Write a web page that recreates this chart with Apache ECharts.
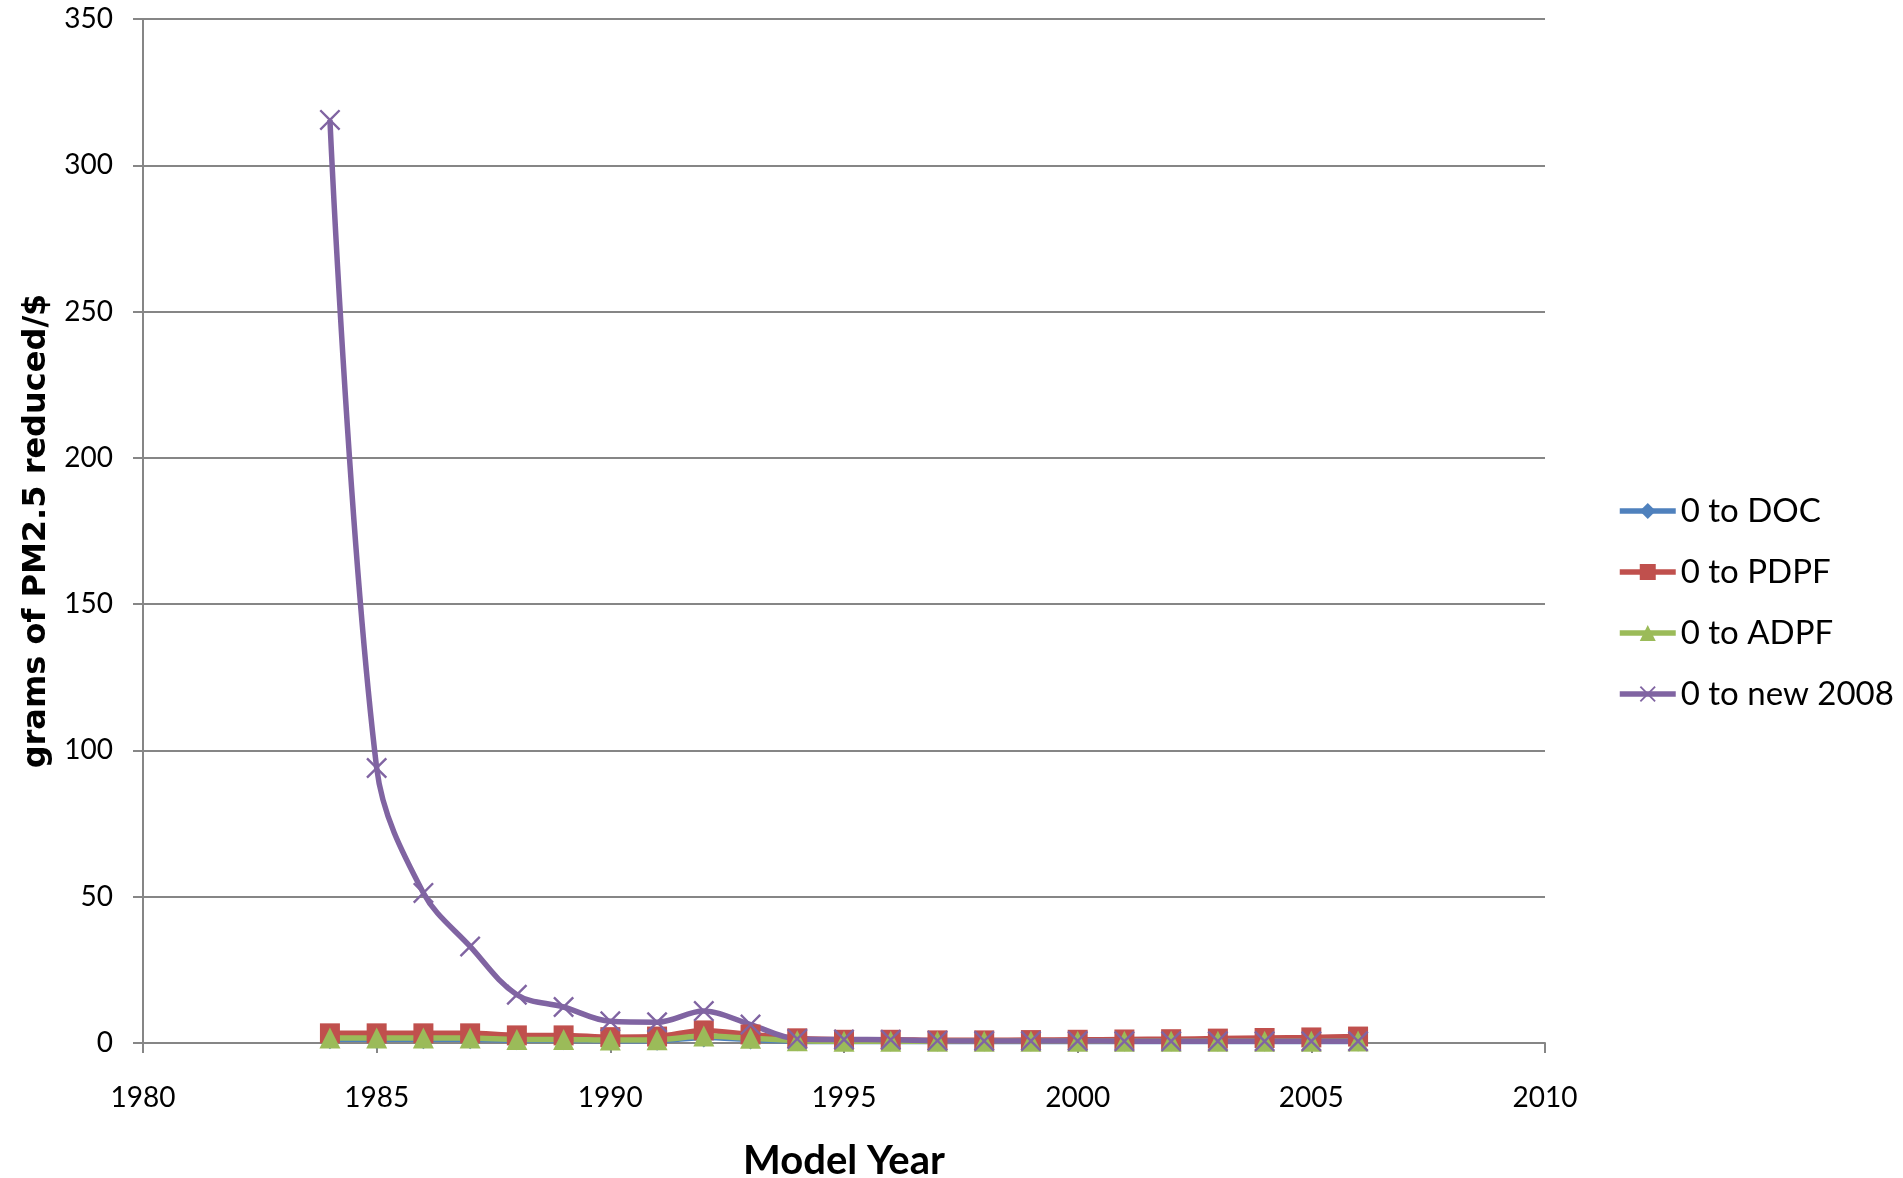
<!DOCTYPE html>
<html>
<head>
<meta charset="utf-8">
<script src="https://cdn.jsdelivr.net/npm/echarts@6/dist/echarts.min.js"></script>
<style>
html,body{margin:0;padding:0;background:#fff;}
#chart{width:1903px;height:1178px;}
</style>
</head>
<body>
<div id="chart"></div>
<script>
const years = [1984,1985,1986,1987,1988,1989,1990,1991,1992,1993,1994,1995,1996,1997,1998,1999,2000,2001,2002,2003,2004,2005,2006];
const docVals  = [1.3,1.3,1.3,1.3,0.9,0.9,0.8,0.8,1.9,1.2,0.6,0.5,0.5,0.5,0.5,0.5,0.5,0.5,0.5,0.5,0.5,0.5,0.5];
const pdpfVals = [3.3,3.3,3.3,3.3,2.6,2.6,2.0,2.2,4.3,2.9,1.6,1.1,1.1,0.9,0.9,1.0,1.1,1.2,1.3,1.5,1.7,1.9,2.2];
const adpfVals = [1.7,1.7,1.7,1.7,1.2,1.2,1.0,1.1,2.4,1.6,0.8,0.6,0.6,0.6,0.6,0.6,0.6,0.6,0.6,0.6,0.6,0.6,0.7];
const newVals  = [315.5,94,51.3,33,16.5,12.3,7.4,7.1,10.9,6.3,1.4,1.2,1.1,0.8,0.7,0.7,0.7,0.6,0.6,0.6,0.6,0.6,0.6];
const seriesNames = ['0 to DOC','0 to PDPF','0 to ADPF','0 to new 2008'];
const xTicks = [1980,1985,1990,1995,2000,2005,2010];
const yTicks = [0,50,100,150,200,250,300,350];

const xSymbol = 'path://M0,0.8 L0.8,0 L5,4.2 L9.2,0 L10,0.8 L5.8,5 L10,9.2 L9.2,10 L5,5.8 L0.8,10 L0,9.2 L4.2,5 Z';
const pair = vals => years.map((y,i)=>[y, vals[i]]);

const chart = echarts.init(document.getElementById('chart'), null, {renderer:'canvas'});
const axisGray = '#868686';
const LW = 5.5;
chart.setOption({
  animation:false,
  backgroundColor:'#ffffff',
  grid:{left:143, top:19, width:1402, height:1024, containLabel:false, outerBoundsMode:'none'},
  legend:{
    orient:'vertical', left:1612, top:486,
    itemWidth:56, itemHeight:20, itemGap:21,
    lineStyle:{width:LW},
    textStyle:{fontFamily:'Lato', fontSize:33, color:'#000', lineHeight:40},
    data:seriesNames
  },
  xAxis:{
    type:'value', min:xTicks[0], max:xTicks[xTicks.length-1], interval:5,
    name:'Model Year', nameLocation:'middle', nameGap:98,
    nameTextStyle:{fontFamily:'Lato', fontWeight:'bold', fontSize:40, color:'#000'},
    axisLine:{show:true, lineStyle:{color:axisGray, width:2}},
    axisTick:{show:true, inside:false, length:10, lineStyle:{color:axisGray, width:2}},
    axisLabel:{fontFamily:'Lato', fontSize:28, color:'#000', margin:41, formatter:v=>String(v)},
    splitLine:{show:false}
  },
  yAxis:{
    type:'value', min:yTicks[0], max:yTicks[yTicks.length-1], interval:50,
    name:'grams of PM2.5 reduced/$', nameLocation:'middle', nameGap:90, nameRotate:90,
    nameTextStyle:{fontFamily:'DejaVu Sans', fontWeight:'bold', fontSize:32, color:'#000'},
    axisLine:{show:true, lineStyle:{color:axisGray, width:2}},
    axisTick:{show:true, inside:false, length:10, lineStyle:{color:axisGray, width:2}},
    axisLabel:{fontFamily:'Lato', fontSize:28, color:'#000', margin:30},
    splitLine:{show:true, lineStyle:{color:axisGray, width:2}}
  },
  series:[
    {name:seriesNames[0], type:'line', data:pair(docVals), smooth:0.3,
     symbol:'diamond', symbolSize:20, itemStyle:{color:'#4F81BD'}, lineStyle:{color:'#4F81BD', width:LW}},
    {name:seriesNames[1], type:'line', data:pair(pdpfVals), smooth:0.3,
     symbol:'rect', symbolSize:20, itemStyle:{color:'#C0504D'}, lineStyle:{color:'#C0504D', width:LW}},
    {name:seriesNames[2], type:'line', data:pair(adpfVals), smooth:0.3,
     symbol:'triangle', symbolSize:21, itemStyle:{color:'#9BBB59'}, lineStyle:{color:'#9BBB59', width:LW}},
    {name:seriesNames[3], type:'line', data:pair(newVals), smooth:0.35,
     symbol:xSymbol, symbolSize:21, itemStyle:{color:'#8064A2'}, lineStyle:{color:'#8064A2', width:LW}}
  ]
});
</script>
</body>
</html>
